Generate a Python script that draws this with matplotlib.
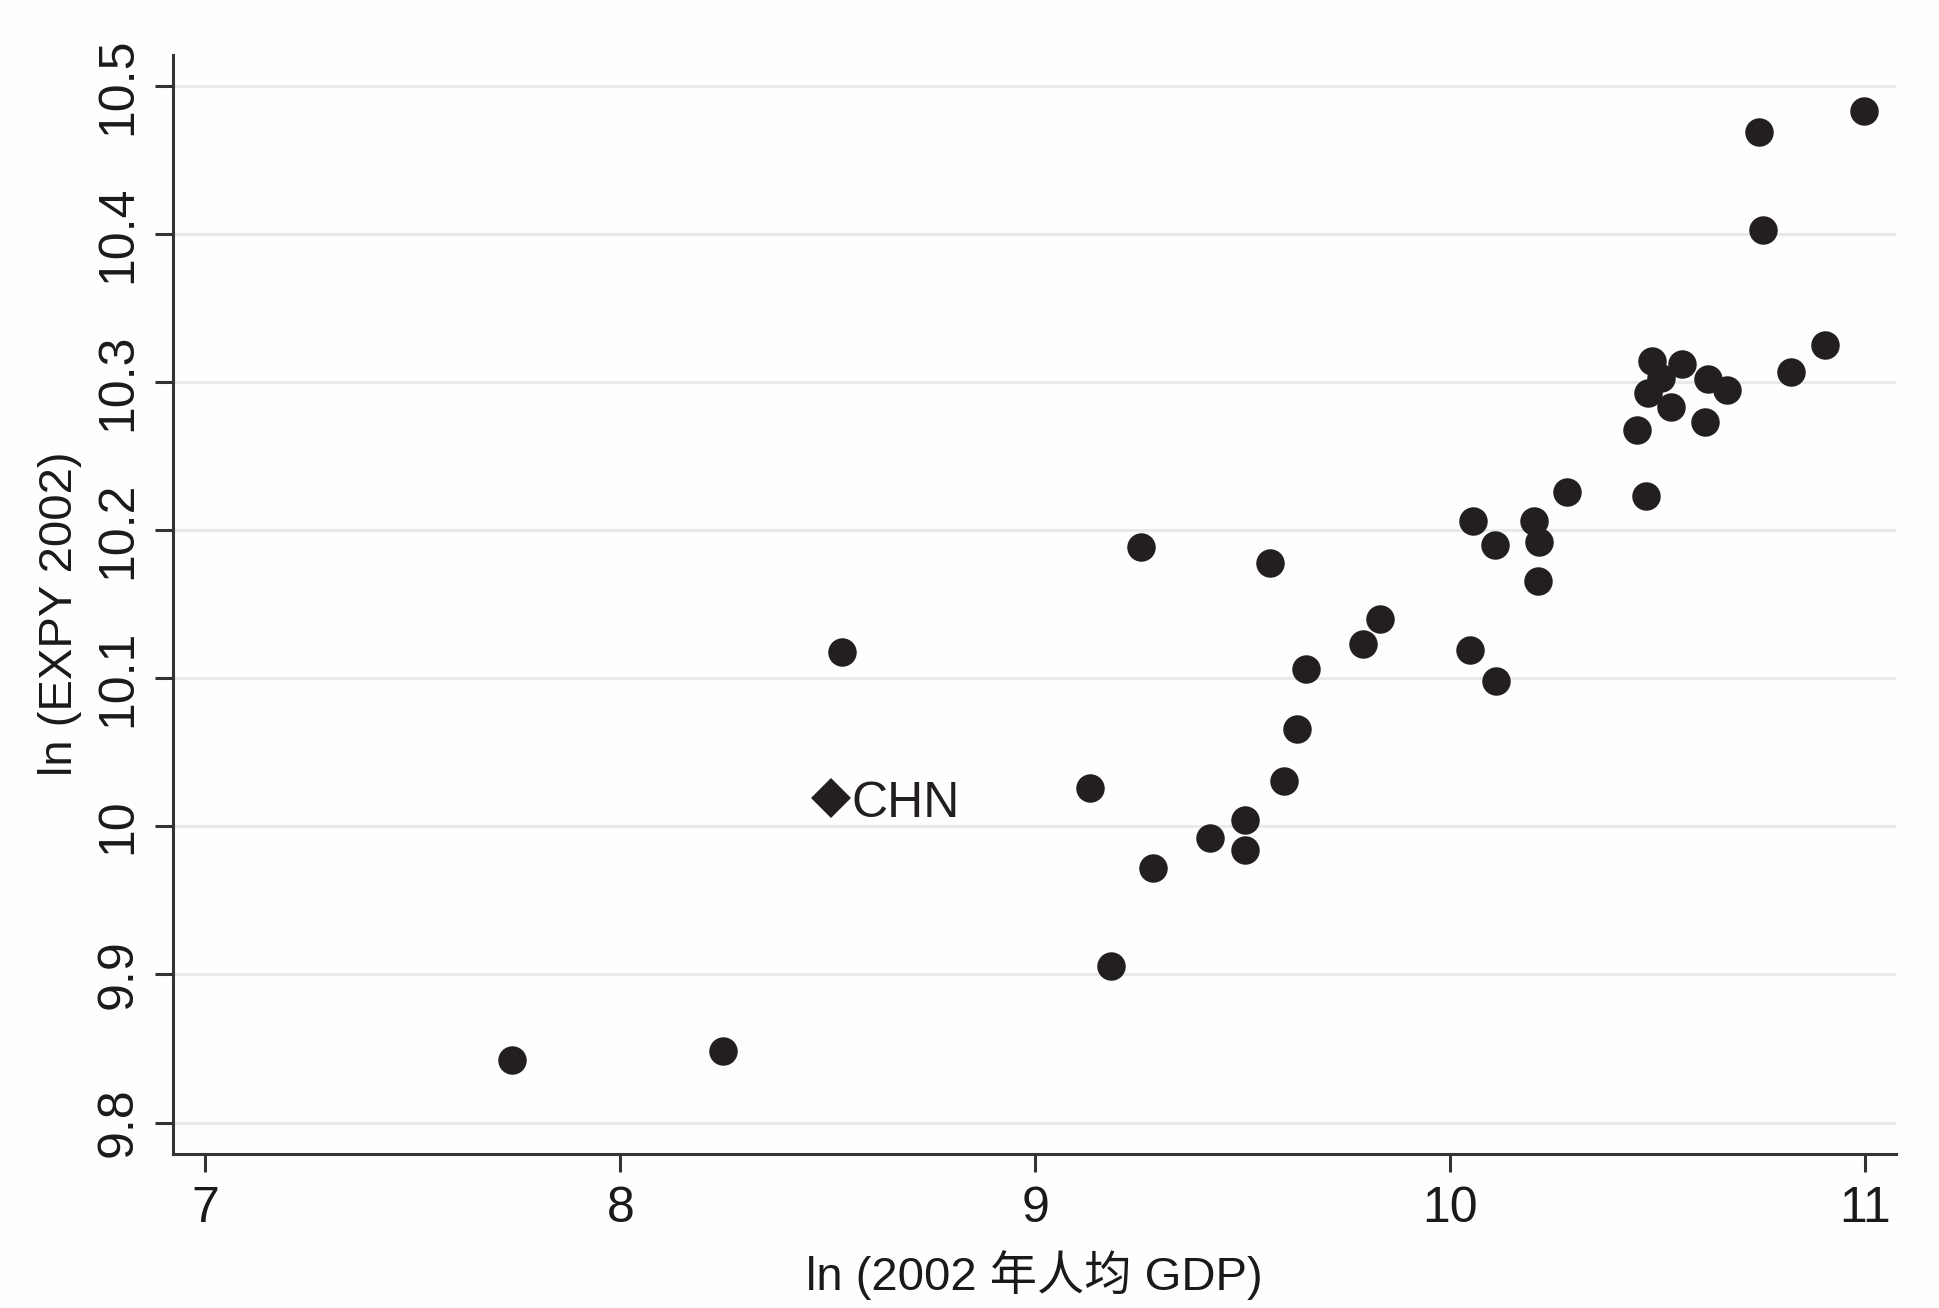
import matplotlib
matplotlib.use("Agg")
import matplotlib.pyplot as plt

plt.rcParams['font.family'] = ['Liberation Sans', 'Noto Sans CJK SC', 'DejaVu Sans']

# ln(2002 per-capita GDP) and ln(EXPY 2002)
gdp = [7.738, 8.247, 8.535, 9.131, 9.182, 9.255, 9.283, 9.420, 9.506, 9.506,
       9.566, 9.599, 9.630, 9.652, 9.789, 9.830, 10.047, 10.055, 10.107, 10.110,
       10.202, 10.215, 10.211, 10.282, 10.449, 10.471, 10.485, 10.558, 10.509, 10.477,
       10.533, 10.622, 10.666, 10.614, 10.820, 10.903, 10.744, 10.754, 10.998]
expy = [9.842, 9.848, 10.118, 10.026, 9.906, 10.189, 9.972, 9.992, 10.004, 9.984,
        10.178, 10.031, 10.066, 10.106, 10.123, 10.140, 10.119, 10.206, 10.190, 10.098,
        10.206, 10.192, 10.166, 10.226, 10.268, 10.223, 10.314, 10.312, 10.303, 10.293,
        10.283, 10.302, 10.295, 10.273, 10.307, 10.325, 10.469, 10.403, 10.483]

chn_gdp = 8.507
chn_expy = 10.019
chn_label = "CHN"

xticks = [7, 8, 9, 10, 11]
yticks = [9.8, 9.9, 10.0, 10.1, 10.2, 10.3, 10.4, 10.5]
ytick_labels = ["9.8", "9.9", "10", "10.1", "10.2", "10.3", "10.4", "10.5"]

ink = '#231f20'
axc = '#333333'

fig = plt.figure(figsize=(19.39, 13.08), dpi=100, facecolor='#fefefd')
ax = fig.add_axes([0.0894, 0.118, 0.8884, 0.840])
ax.set_facecolor('#fefefd')

ax.plot(gdp, expy, 'o', color=ink, markersize=20.5, markeredgewidth=0, zorder=3)
ax.plot([chn_gdp], [chn_expy], 'D', color=ink, markersize=20.5, markeredgewidth=0, zorder=3)
ax.text(chn_gdp + 0.05, chn_expy - 0.004, chn_label, fontsize=36, color=ink,
        ha='left', va='center')

ax.set_xlim(6.923, 11.074)
ax.set_ylim(9.779, 10.521)
ax.set_xticks(xticks)
ax.set_xticklabels([str(t) for t in xticks])
ax.set_yticks(yticks)
ax.set_yticklabels(ytick_labels, rotation=90, va='center')

ax.grid(axis='y', color='#e9e9e9', linewidth=2.2, zorder=0)
ax.grid(axis='x', visible=False)

for s in ['top', 'right']:
    ax.spines[s].set_visible(False)
for s in ['left', 'bottom']:
    ax.spines[s].set_color(axc)
    ax.spines[s].set_linewidth(2.2)

ax.tick_params(axis='both', direction='out', length=13, width=2.2, color=axc,
               labelsize=36, labelcolor='#1a1a1a', pad=10)

ax.set_xlabel("ln (2002 年人均 GDP)", fontsize=34, color='#1a1a1a', labelpad=13)
ax.set_ylabel("ln (EXPY 2002)", fontsize=34, color='#1a1a1a')
ax.yaxis.set_label_coords(-0.053, 0.491)

fig.savefig("out.png", dpi=100, facecolor=fig.get_facecolor())
